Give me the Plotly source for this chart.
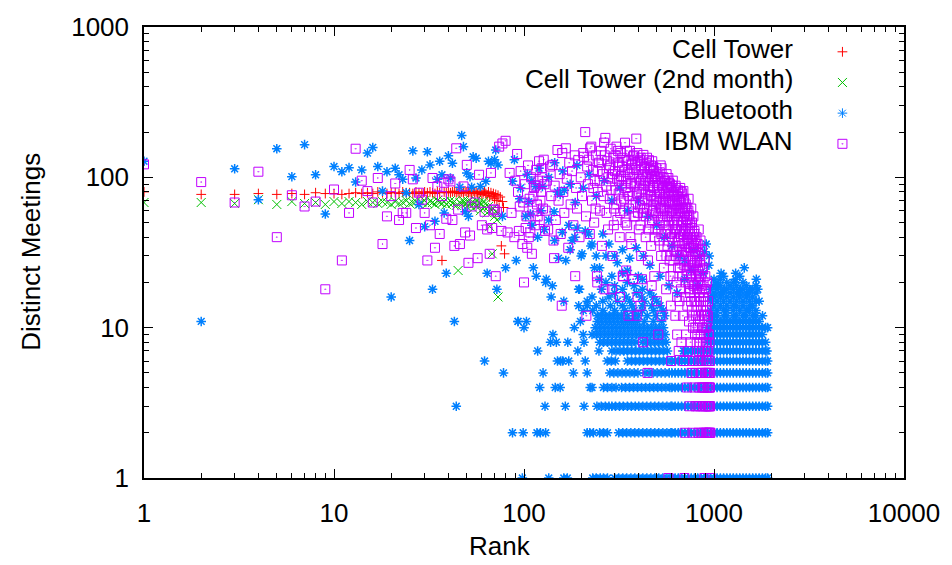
import plotly.graph_objects as go

# ---------------- data ----------------
# Cell Tower: distinct meetings for ranks 1..N
cell_tower_meet = [80,77,77,78,77,78,77,79,78,78, 77,78,79,78,79,78,80,79,78,79,
                   79,78,80,79,79,78,80,79,78,80, 79,80,79,78,80,79,28,80,79,80,
                   79,80,81,79,80,78,80,79,81,80, 79,80,78,81,79,80,78,79,80,77,
                   79,81,78,76,80,74,79,75,78,72, 77,70,76,63,74,35,69,63,31]
cell_tower_rank = list(range(1, len(cell_tower_meet) + 1))

# Cell Tower (2nd month)
cell2_meet = [68,68,67,71,66,69,67,68,66,69, 67,69,68,66,69,68,67,69,68,66,
              69,67,68,70,67,68,69,66,68,70, 67,69,68,66,70,68,67,69,66,68,
              70,67,69,65,24,68,66,70,67,64, 69,66,68,62,67,70,65,68,60,66,
              69,63,67,58,64,47,61,31,62,55, 59,52,16]
cell2_rank = list(range(1, len(cell2_meet) + 1))

# Bluetooth: scattered points (rank, meetings)
bt_scatter = [(1,128),(2,11),(3,114),(4,71),(5,155),(6,101),(7,165),(8,104),(9,57),(10,118),
              (11,109),(12,116),(13,93),(14,112),(15,145),(16,158),(17,118),(18,81),(19,109),(20,16),
              (21,115),(22,104),(23,97),(24,79),(25,38),(26,150),(27,99),(28,66),(29,112),(30,47),
              (31,148),(32,121),(33,18),(34,51),(35,97),(36,128),(37,104),(38,58),(39,23),(40,139),
              (41,99),(42,124),(43,11),(44,3),(46,86),(47,190),(48,160),(49,59),(50,107),(51,55),
              (52,101),(53,86),(54,137),(56,134),(59,87),(63,94),(64,23),(65,128),(67,124),(70,131),
              (71,152),(72,18),(73,121),(77,55),(80,25),(87,94),(89,131),(91,28),(93,11),(95,72),
              (96,85),(102,55),(104,105),(106,69),(108,57),(110,48),(112,25),(115,87),(118,40),(123,60),
              (125,87),(128,45),(135,52),(144,59),(145,38),(150,80),(152,29),(155,77),(159,43),(163,82),
              (166,28),(172,48),(175,33),(179,38),(185,40),(186,68),(190,46),(194,18),(200,30),(202,31),
              (210,44),(219,42),(225,35),(228,36),(240,30),(260,42),(280,36),(300,30),(330,33),(360,29),
              (390,34),(425,30),(780,33),(840,30),(890,32),(910,36),(944,30),
              (110,95),(120,115),(135,100),(145,125),(160,110),(175,90),(190,120),(205,85),(220,105),
              (240,75),(265,95),(290,70),(320,85),(350,60),(400,70),(450,55),(500,48),(550,40),(600,35),
              (650,30),(700,28),(250,25),(270,30),(310,27),(350,24),(400,22),(460,26),(520,22),(580,19),
              (640,17),(700,21),(760,24),(820,19),(880,23),(940,26),(1000,21),(1050,19),
              (118,7),(126,5),(142,9),(156,6),(170,8),(182,5),(192,7),(205,9),(215,5)]

# Bluetooth: ranks found on each integer meeting count (horizontal rows)
bt_m1 = [98,135,162,169,230,240,252,262,275,300,315,331,347,365,383,402,422,443,465,488,512,538,565,593,
         600,624,649,675,702,730,759,789,821,854,888,923,960,998,1038,1080,1123,1168,1215,1263,1314,1366,
         1421,1478,1537,1598,1662,1729,1798,1870,1915]
bt_m2 = [87,99,117,122,130,215,222,232,250,262,275,315,331,347,365,383,402,422,443,465,488,512,538,565,593,
         600,624,649,675,702,730,759,789,821,854,888,923,960,998,1038,1080,1123,1168,1215,1263,1314,1366,
         1421,1478,1537,1598,1662,1729,1798,1870,1915]
bt_m3 = [129,165,207,242,255,268,280,290,303,318,333,350,367,385,402,422,443,465,488,512,538,565,593,
         600,624,649,675,702,730,759,789,821,854,888,923,960,998,1038,1080,1123,1168,1215,1263,1314,1366,
         1421,1478,1537,1598,1662,1729,1798,1870,1915]
bt_m4 = [121,146,155,223,228,262,275,290,305,326,342,359,377,396,416,437,459,482,506,531,558,586,
         600,624,649,675,702,730,759,789,821,854,888,923,960,998,1038,1080,1123,1168,1215,1263,1314,1366,
         1421,1478,1537,1598,1662,1729,1798,1870,1915]
bt_m5 = [78,283,297,312,328,344,361,380,398,433,455,478,502,527,553,581,
         600,624,649,675,702,730,759,789,821,854,888,923,960,998,1038,1080,1123,1168,1215,1263,1314,1366,
         1421,1478,1537,1598,1662,1729,1798,1870,1915]
bt_m6 = [62,150,160,172,210,274,288,303,350,368,386,405,425,446,468,492,516,542,569,
         600,624,649,675,702,730,759,789,821,854,888,923,960,998,1038,1080,1123,1168,1215,1263,1314,1366,
         1421,1478,1537,1598,1662,1729,1798,1870,1915]
bt_m7 = [248,290,305,320,335,350,368,386,405,425,446,468,492,516,542,569,690,702,730,759,789,821,854,888,
         923,960,998,1038,1080,1123,1168,1215,1263,1314,1366,1421,1478,1537,1598,1662,1729,1798,1870,1900]
bt_m8 = [138,148,207,250,262,275,289,303,318,334,351,369,388,420,441,463,486,510,536,560,
         923,960,998,1038,1080,1123,1168,1215,1263,1314,1366,1421,1478,1537,1598,1662,1729,1798,1870]
bt_m9 = [228,240,252,265,278,292,307,322,338,355,373,392,412,433,455,478,502,527,553,
         923,960,998,1038,1080,1123,1168,1215,1263,1314,1366,1421,1478,1537,1598,1662,1729,1798]
bt_m10 = [100,184,237,249,261,274,288,302,317,333,350,368,386,405,425,446,468,492,516,542,
          923,960,998,1038,1080,1123,1168,1215,1263,1314,1366,1421,1478,1537,1598,1662,1729,1798,1870,1915]
bt_m11 = [93,103,198,243,255,268,281,295,310,326,342,359,377,396,430,480,530,
          960,998,1038,1080,1123,1168,1215,1263,1314,1366,1421,1478,1537,1598,1662,1729]
bt_m12 = [243,255,268,281,295,310,326,350,380,400,445,495,550,
          960,1000,1038,1123,1168,1263,1314,1421,1478,1598,1662,1800]
bt_m13 = [205,230,260,300,340,380,420,480,540,
          960,1038,1123,1168,1263,1366,1478,1537,1662]
bt_m14 = [194,215,240,285,330,370,420,470,520,
          998,1080,1168,1263,1314,1421,1537,1598]
bt_m15 = [162,215,260,310,360,430,500,
          960,1038,1123,1215,1314,1421,1537,1662,1729]
bt_m16 = [139,228,280,345,415,480,
          960,998,1080,1168,1263,1366,1478,1598]
bt_m17 = [300,390,460,1000,1080,1123,1215,1314,1366,1478,1537,1662]
bt_m18 = [196,256,330,420,960,1038,1123,1168,1263,1366,1421,1537,1598,1700]
bt_m19 = [141,300,380,998,1080,1215,1314,1478,1662]
bt_m20 = [130,270,350,1038,1168,1263,1421]
bt_m21 = [131,250,420,1080,1300,1670]
bt_m22 = [116,290,1123,1366]
bt_m23 = [330,1090,1300]
bt_m25 = [235,1443]
bt_row_levels = [1,2,3,4,5,6,7,8,9,10,11,12,13,14,15,16,17,18,19,20,21,22,23,25]
bt_row_ranks = [bt_m1,bt_m2,bt_m3,bt_m4,bt_m5,bt_m6,bt_m7,bt_m8,bt_m9,bt_m10,bt_m11,bt_m12,
                bt_m13,bt_m14,bt_m15,bt_m16,bt_m17,bt_m18,bt_m19,bt_m20,bt_m21,bt_m22,bt_m23,bt_m25]

# IBM WLAN (rank, meetings)
wlan = [(1,122),(2,93),(3,68),(4,109),(5,40),(6,76),(7,64),(8,69),(9,18),(10,83),
        (11,28),(12,58),(13,155),(14,95),(15,81),(16,68),(17,99),(18,36),(19,55),(20,75),
        (21,91),(22,52),(23,58),(24,58),(25,112),(26,97),(27,46),(28,79),(29,71),(30,58),
        (31,28),(32,48),(33,99),(34,34),(35,87),(36,42),(37,75),(38,92),(39,53),(40,97),
        (41,94),(42,52),(43,35),(44,156),(45,61),
        (46,36),(48,87),(49,43),(50,121),(51,27),(52,41),(53,64),(55,68),(57,29),(58,104),
        (60,48),(62,59),(64,45),(66,31),(67,107),(68,46),(69,61),(70,61),(71,22),(72,59),
        (74,160),(76,44),(77,168),(80,175),(82,43),(84,107),(86,58),(89,40),(90,95),(92,143),
        (94,44),(95,64),(98,36),(100,20),(102,46),(104,34),(106,40),(108,43),(110,31),(112,75),
        (115,88),(118,55),(120,128),(122,70),(125,100),(127,131),
        (93,80),(96,110),(99,68),(101,90),(103,55),(105,120),(107,72),(109,100),(111,60),(113,85),
        (114,48),(116,112),(117,66),(119,95),(121,52),(123,80),(124,115),(126,62),(128,90),(129,44),
        (130,60),(132,95),(134,45),(137,118),(139,75),(141,121),(143,38),(144,29),(145,88),(147,52),
        (150,152),(152,70),(154,105),(156,42),(158,14),(159,145),(161,80),(163,58),(166,156),(168,98),
        (171,34),(173,125),(176,66),(179,110),(182,48),(185,140),(186,22),(188,85),(190,62),(193,130),
        (196,40),(199,100),
        (202,75),(205,145),(207,137),(210,200),(212,55),(213,12),(215,118),(217,90),(219,131),(222,42),
        (223,156),(226,160),(228,70),(231,112),(234,50),(236,95),(239,140),(242,22),(243,20),(245,80),
        (248,125),(251,60),(254,150),(257,35),(260,105),(264,170),(268,183),(271,88),(274,128),(277,45),
        (280,115),(283,72),(286,155),(289,98),(290,18),(292,30),(295,135),(298,62),
        (301,110),(304,82),(307,160),(310,52),(313,125),(316,95),(319,40),(322,145),(325,70),(328,118),
        (331,22),(333,22),(334,100),(337,60),(340,170),(343,85),(346,130),(349,48),(352,108),(355,12),
        (358,75),(361,150),(364,92),(367,36),(370,122),(373,66),(375,21),(376,21),(379,140),(382,88),
        (385,55),(388,112),(390,181),(392,12),(393,78),(396,16),(399,128),(402,45),(405,98),(408,65),
        (411,135),(414,30),(417,105),(418,21),(420,84),(423,58),(424,8),(425,141),(428,115),
        (431,72),(434,95),(437,40),(440,125),(443,62),(446,105),(447,5),(449,28),(452,88),(455,130),
        (458,50),(461,112),(464,76),(467,35),(470,98),(473,128),(476,60),(479,118),(482,85),(485,22),
        (488,102),(491,45),(494,70),(497,115),(500,15),(503,92),(506,55),(509,9),(512,80),(515,38),
        (518,108),(521,65),(524,120),(527,30),(530,115),(533,88),(536,50),(539,72),(542,100),(545,25),
        (548,60),(551,95),(554,42),(557,78),(560,18),(563,105),(566,55),(569,35),(572,85),(575,99),
        (576,1),(578,48),(581,68),(584,28),(587,90),(590,58),(593,14),(595,6),(598,75),(601,40),
        (604,62),(607,95),(610,22),(613,50),(616,80),(619,33),
        (622,70),(624,45),(626,12),(628,88),(630,58),(632,30),(634,75),(636,20),(638,52),(640,9),
        (642,65),(644,38),(646,82),(648,25),(650,48),(652,7),(654,72),(656,35),(658,15),(660,60),
        (662,42),(664,85),(666,28),(668,55),(670,18),(672,68),(674,8),(676,45),(678,32),(680,78),
        (682,22),(684,50),(686,12),(688,62),(690,81),(692,38),(694,6),(696,72),(698,26),(699,1),
        (700,44),(702,2),(704,58),(706,16),(708,33),(710,66),(712,9),(714,48),(716,24),(718,63),
        (720,4),(722,40),(724,14),(726,52),(728,30),(730,7),(732,45),(734,20),(735,72),(737,36),
        (739,11),(741,56),(743,3),(745,28),(747,42),(749,17),(751,50),(753,8),(755,34),(757,22),
        (759,62),(761,5),(763,38),(765,13),(767,46),(769,26),(771,2),(773,40),(775,10),(777,30),
        (779,55),(781,6),(783,19),(785,35),(787,4),(789,44),(791,15),(793,27),(795,9),(797,38),(799,3),
        (801,32),(803,12),(805,22),(807,5),(809,40),(811,8),(813,18),(815,28),(817,3),(819,14),
        (821,36),(823,6),(825,24),(827,10),(829,2),(831,45),(833,16),(835,7),(837,30),(839,4),
        (841,20),(843,11),(845,26),(847,3),(849,38),(851,9),(853,15),(855,5),(857,22),(859,2),
        (861,12),(863,33),(865,7),(867,18),(869,4),(871,10),(873,25),(875,3),(877,14),(879,6),
        (881,20),(883,2),(885,9),(887,16),(889,4),(890,1),(892,28),(894,7),(896,12),(898,3),
        (900,22),(902,5),(904,10),(906,2),(908,18),(910,6),(912,3),(914,13),(916,8),(918,2),
        (920,20),(922,4),(924,11),(926,6),(928,3),(930,15),(932,2),(934,7),(936,9),(938,4),
        (940,3),(942,5),(944,2),(946,8),(948,3),(950,2),(952,4),(955,3),(958,2),(960,1)]

# IBM WLAN: the dense core of the cloud (rank, meetings)
wlan_core = [(232,85),(238,62),(244,110),(250,95),(256,130),(262,75),(266,140),(272,58),(278,100),(284,120),
             (288,82),(294,105),(297,48),(303,140),(306,66),(309,98),(312,150),(315,78),(318,120),(321,58),
             (324,102),(327,88),(330,135),(336,72),(339,112),(342,50),(345,95),(348,150),(351,80),(354,128),
             (357,62),(360,105),(363,40),(366,90),(369,115),(372,75),(375,138),(378,55),(381,100),(384,125),
             (387,68),(391,92),(395,145),(398,58),(401,112),(404,80),(407,130),(410,48),(413,95),(416,120),
             (419,70),(422,105),(426,88),(429,62),(432,118),(435,78),(438,55),(441,100),(444,135),(448,70),
             (451,92),(454,45),(457,115),(460,82),(463,60),(466,120),(469,75),(472,52),(475,100),(478,88),
             (481,65),(484,110),(487,40),(490,95),(493,72),(496,58),(499,105),(502,80),(505,45),(508,98),
             (511,68),(514,88),(517,52),(520,78),(523,100),(526,62),(529,42),(532,92),(535,70),(538,55),
             (541,85),(544,35),(547,78),(550,62),(553,95),(556,48),(559,70),(562,30),(565,88),(568,60),
             (571,45),(574,75),(577,38),(580,92),(583,55),(586,70),(589,42),(592,82),(596,30),(599,60),
             (603,88),(606,48),(609,68),(612,28),(615,76),(618,52),(621,40),(625,65),(629,85),(633,45),
             (637,70),(641,32),(645,58),(649,78),(653,40),(657,62),(661,25),(665,70),(669,48),(673,80),
             (677,35),(681,58),(685,42),(689,70),(693,28),(697,55),(701,36),(705,62),(709,20),(713,46),
             (717,32),(721,55),(725,24),(729,40),(733,60),(738,18),(742,34),(746,48),(750,25),(754,40),
             (758,15),(762,30),(766,50),(770,20),(774,34),(778,12),(782,26),(786,42),(790,18),(794,30),
             (798,10),(802,24),(806,35),(810,15),(814,27),(818,9),(822,20),(826,32),(830,12),(834,22),
             (838,8),(842,17),(846,28),(850,6),(854,13),(858,19),(862,5),(866,10),(870,24),(874,8),
             (878,16),(882,4),(886,12),(893,18),(897,5),(903,14),(907,8),(913,10),(917,5),(921,7),
             (927,12),(933,5),(939,9),(945,4),(951,6),(956,5),
             (265,18),(320,16),(345,24),(410,14),(470,19),(530,12),(590,22),(640,16)]

series_names = ["Cell Tower", "Cell Tower (2nd month)", "Bluetooth", "IBM WLAN"]
x_tick_vals = [1, 10, 100, 1000, 10000]
y_tick_vals = [1, 10, 100, 1000]

# ---------------- build ----------------
RED, GREEN, BLUE, MAG = "#ff0000", "#00c000", "#0080ff", "#c000ff"
FONT = "Liberation Sans, Arial, Helvetica, sans-serif"

bt_x = [r for r, v in bt_scatter]
bt_y = [v for r, v in bt_scatter]
for lvl, rks in zip(bt_row_levels, bt_row_ranks):
    bt_x += rks
    bt_y += [lvl] * len(rks)

wl_all = wlan + wlan_core
wl_x = [r for r, v in wl_all]
wl_y = [v for r, v in wl_all]

styles = [
    dict(symbol="cross-thin-open", size=7, color=RED, lw=1),
    dict(symbol="x-thin-open", size=9, color=GREEN, lw=1),
    dict(symbol="asterisk-open", size=8, color=BLUE, lw=1.5),
    dict(symbol="square-open-dot", size=9, color=MAG, lw=1),
]
data_xy = [(cell_tower_rank, cell_tower_meet), (cell2_rank, cell2_meet), (bt_x, bt_y), (wl_x, wl_y)]

fig = go.Figure()
for (xs, ys), st, nm in zip(data_xy, styles, series_names):
    fig.add_trace(go.Scatter(
        x=xs, y=ys, mode="markers", name=nm, showlegend=False,
        marker=dict(symbol=st["symbol"], size=st["size"], color=st["color"],
                    line=dict(width=st["lw"], color=st["color"]))))

# legend keys (gnuplot style: text right-aligned, symbol to the right)
key_y = [0.945, 0.877, 0.809, 0.741]
text_y = [0.952, 0.884, 0.817, 0.747]
for st, nm, ky, ty in zip(styles, series_names, key_y, text_y):
    fig.add_trace(go.Scatter(
        x=[0.919], y=[ky], xaxis="x2", yaxis="y2", mode="markers", showlegend=False,
        hoverinfo="skip",
        marker=dict(symbol=st["symbol"], size=st["size"], color=st["color"],
                    line=dict(width=1, color=st["color"]))))
    fig.add_annotation(x=0.856, y=ty, xref="paper", yref="paper", text=nm,
                       showarrow=False, xanchor="right", yanchor="middle",
                       font=dict(family=FONT, size=26, color="black"))

minor_vals = [m * 10 ** e for e in range(4) for m in range(2, 10)]

axis_common = dict(
    type="log", ticks="inside", ticklen=9, tickwidth=1, tickcolor="black",
    showline=True, linecolor="black", linewidth=1.5, mirror="allticks",
    showgrid=False, zeroline=False,
    tickfont=dict(family=FONT, size=26, color="black"),
    minor=dict(ticks="inside", ticklen=5, tickwidth=1, tickcolor="black",
               tickmode="array", tickvals=minor_vals, showgrid=False),
)

fig.update_layout(
    width=952, height=565,
    margin=dict(l=144, r=44, t=23, b=87),
    paper_bgcolor="white", plot_bgcolor="white",
    font=dict(family=FONT, size=26, color="black"),
    xaxis=dict(axis_common, range=[0, 4], tickmode="array", tickvals=x_tick_vals,
               ticktext=[str(v) for v in x_tick_vals], ticklabelstandoff=11),
    yaxis=dict(axis_common, range=[0, 3], tickmode="array", tickvals=y_tick_vals,
               ticktext=[str(v) for v in y_tick_vals], ticklabelstandoff=8),
    xaxis2=dict(overlaying="x", anchor="y2", range=[0, 1], visible=False, fixedrange=True),
    yaxis2=dict(overlaying="y", anchor="x2", range=[0, 1], visible=False, fixedrange=True),
    showlegend=False,
)

fig.add_annotation(x=0.4686, y=-0.151, xref="paper", yref="paper", text="Rank",
                   showarrow=False, xanchor="center", yanchor="middle",
                   font=dict(family=FONT, size=26, color="black"))
fig.add_annotation(x=-0.149, y=0.501, xref="paper", yref="paper", text="Distinct Meetings",
                   showarrow=False, xanchor="center", yanchor="middle", textangle=-90,
                   font=dict(family=FONT, size=26, color="black"))

fig.write_html("out.html")
